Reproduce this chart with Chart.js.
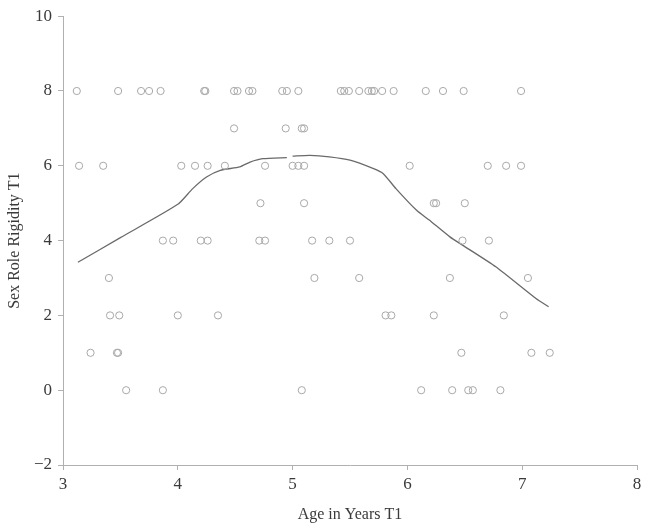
<!DOCTYPE html>
<html>
<head>
<meta charset="utf-8">
<title>Sex Role Rigidity by Age</title>
<script src="https://cdn.jsdelivr.net/npm/chart.js@4"></script>
<style>
  body { margin: 0; background: #fff; }
  #wrap { width: 647px; height: 531px; }
</style>
</head>
<body>
<div id="wrap"><canvas id="scatterChart" width="647" height="531"></canvas></div>
<script>
// observed points, grouped by rigidity score
var age8 = [3.12, 3.48, 3.68, 3.75, 3.85, 4.23, 4.24, 4.49, 4.52, 4.62, 4.65, 4.91, 4.95, 5.05, 5.42, 5.45, 5.49, 5.58, 5.66, 5.69, 5.71, 5.78, 5.88, 6.16, 6.31, 6.49, 6.99];
var age7 = [4.49, 4.94, 5.08, 5.10];
var age6 = [3.14, 3.35, 4.03, 4.15, 4.26, 4.41, 4.76, 5.0, 5.05, 5.10, 6.02, 6.70, 6.86, 6.99];
var age5 = [4.72, 5.10, 6.23, 6.25, 6.50];
var age4 = [3.87, 3.96, 4.20, 4.26, 4.71, 4.76, 5.17, 5.32, 5.50, 6.48, 6.71];
var age3 = [3.40, 5.19, 5.58, 6.37, 7.05];
var age2 = [3.41, 3.49, 4.0, 4.35, 5.81, 5.86, 6.23, 6.84];
var age1 = [3.24, 3.47, 3.48, 6.47, 7.08, 7.24];
var age0 = [3.55, 3.87, 5.08, 6.12, 6.39, 6.53, 6.57, 6.81];

// smoothed fit line
var fitX = [3.13, 3.5, 4.0, 4.13, 4.25, 4.37, 4.54, 4.63, 4.74, 4.95, 4.97, 5.0, 5.15, 5.32, 5.5, 5.7, 5.79, 5.9, 6.08, 6.19, 6.37, 6.48, 6.77, 7.12, 7.23];
var fitY = [3.42, 4.08, 4.97, 5.39, 5.70, 5.88, 5.97, 6.10, 6.19, 6.22, null, 6.26, 6.28, 6.24, 6.15, 5.93, 5.79, 5.39, 4.81, 4.55, 4.10, 3.88, 3.30, 2.45, 2.23];

var yTicks = [-2, 0, 2, 4, 6, 8, 10];
var xTicks = [3, 4, 5, 6, 7, 8];

var groups = [[8, age8], [7, age7], [6, age6], [5, age5], [4, age4], [3, age3], [2, age2], [1, age1], [0, age0]];
var points = [];
groups.forEach(function (g) {
  g[1].forEach(function (a) { points.push({x: a, y: g[0]}); });
});

var fitLine = [];
for (var i = 0; i < fitX.length; i++) {
  fitLine.push({x: fitX[i], y: fitY[i]});
}

var axisColor = '#b0b0b0';
var textColor = '#3a3a3a';
var serif = "'Liberation Serif', 'DejaVu Serif', serif";

var ctx = document.getElementById('scatterChart').getContext('2d');
var chart = new Chart(ctx, {
  type: 'scatter',
  data: {
    datasets: [{
      label: 'Observed',
      data: points,
      pointStyle: 'circle',
      pointRadius: 3.6,
      pointBorderWidth: 1,
      pointBorderColor: '#a8a8a8',
      pointBackgroundColor: 'rgba(255,255,255,0)',
      showLine: false
    }, {
      label: 'Fit',
      data: fitLine,
      showLine: true,
      spanGaps: false,
      borderColor: '#6a6a6a',
      borderWidth: 1.3,
      pointRadius: 0,
      tension: 0.2
    }]
  },
  options: {
    responsive: false,
    animation: false,
    layout: { padding: { left: 0, right: 10, top: 16, bottom: 3 } },
    plugins: {
      legend: { display: false },
      tooltip: { enabled: false }
    },
    scales: {
      x: {
        type: 'linear',
        min: 3,
        max: 8,
        afterBuildTicks: function (scale) {
          scale.ticks = xTicks.map(function (v) { return {value: v}; });
        },
        afterFit: function (scale) { scale.height = 63; },
        border: { color: axisColor, width: 1 },
        grid: { drawOnChartArea: false, color: axisColor, tickLength: 5 },
        ticks: { color: textColor, font: { family: serif, size: 17 }, padding: 4, maxRotation: 0 },
        title: {
          display: true,
          text: 'Age in Years T1',
          color: textColor,
          font: { family: serif, size: 16 },
          padding: { top: 7 }
        }
      },
      y: {
        type: 'linear',
        min: -2,
        max: 10,
        afterBuildTicks: function (scale) {
          scale.ticks = yTicks.map(function (v) { return {value: v}; });
        },
        afterFit: function (scale) { scale.width = 63; },
        border: { color: axisColor, width: 1 },
        grid: { drawOnChartArea: false, color: axisColor, tickLength: 5 },
        ticks: {
          color: textColor,
          font: { family: serif, size: 17 },
          padding: 6,
          callback: function (v) { return String(v).replace('-', '\u2212'); }
        },
        title: {
          display: true,
          text: 'Sex Role Rigidity T1',
          color: textColor,
          font: { family: serif, size: 16 },
          padding: { top: 5, bottom: 4 }
        }
      }
    }
  }
});
</script>
</body>
</html>
